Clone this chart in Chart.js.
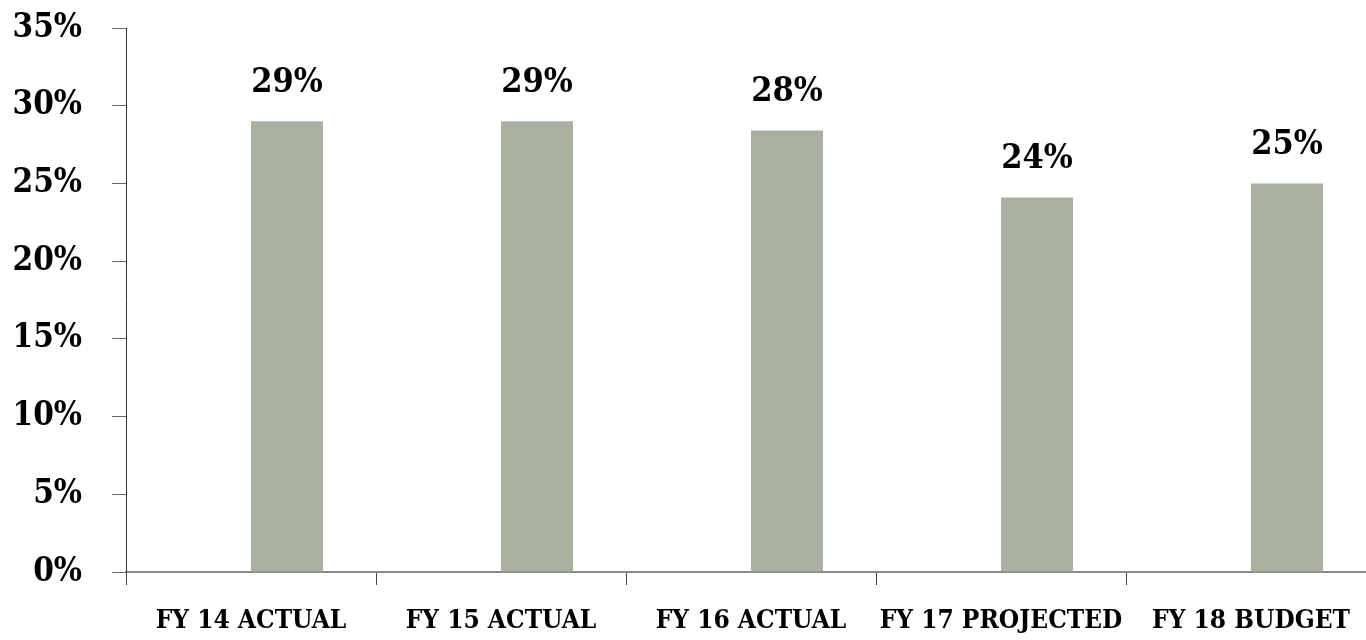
<!DOCTYPE html>
<html>
<head>
<meta charset="utf-8">
<script src="https://cdn.jsdelivr.net/npm/chart.js@4/dist/chart.umd.min.js"></script>
<style>
html,body{margin:0;padding:0;background:#fff;overflow:hidden;}
#wrap{position:relative;width:1390px;height:640px;}
</style>
</head>
<body>
<div id="wrap"><canvas id="c"></canvas></div>
<script>
const categories = ["FY 14 ACTUAL", "FY 15 ACTUAL", "FY 16 ACTUAL", "FY 17 PROJECTED", "FY 18 BUDGET"];
const emptySeries = [null, null, null, null, null];
const shareValues = [29.0, 29.0, 28.4, 24.1, 25.0];
const yTickMax = 35;
const yTickStep = 5;

const FONT = "'DejaVu Serif Condensed', 'DejaVu Serif', serif";

const valueLabels = {
  id: 'valueLabels',
  afterDatasetsDraw(chart) {
    const ctx = chart.ctx;
    const meta = chart.getDatasetMeta(1);
    ctx.save();
    ctx.font = "bold 34px " + FONT;
    ctx.fillStyle = "#000";
    ctx.textAlign = "center";
    ctx.textBaseline = "middle";
    meta.data.forEach((bar, i) => {
      const v = chart.data.datasets[1].data[i];
      ctx.fillText(Math.round(v) + "%", bar.x, bar.y - 38);
    });
    ctx.restore();
  }
};

new Chart(document.getElementById('c'), {
  type: 'bar',
  data: {
    labels: categories,
    datasets: [
      { data: emptySeries, backgroundColor: '#AAB09F' },
      { data: shareValues, backgroundColor: '#AAB09F' }
    ]
  },
  options: {
    responsive: true,
    maintainAspectRatio: false,
    animation: false,
    datasets: { bar: { barPercentage: 1, categoryPercentage: 0.576 } },
    layout: { padding: { top: 28, right: 14, left: 0, bottom: 0 } },
    plugins: { legend: { display: false }, tooltip: { enabled: false } },
    scales: {
      x: {
        offset: true,
        grid: { offset: true, drawOnChartArea: false, drawTicks: true, tickLength: 13, color: '#444', lineWidth: 1 },
        border: { display: true, color: '#888', width: 2 },
        ticks: { color: '#000', font: { family: FONT, weight: 'bold', size: 26 }, padding: 21, maxRotation: 0, autoSkip: false },
        afterFit(scale) { scale.height = 68; scale.paddingLeft = 0; scale.paddingRight = 0; }
      },
      y: {
        min: 0,
        max: yTickMax,
        grid: { drawOnChartArea: false, drawTicks: true, tickLength: 14, color: '#666', lineWidth: 1 },
        border: { display: true, color: '#333', width: 1 },
        ticks: { stepSize: yTickStep, color: '#000', font: { family: FONT, weight: 'bold', size: 33 }, padding: 30,
                 callback: v => v + '%' },
        afterFit(scale) { scale.width = 126; scale.paddingTop = 0; scale.paddingBottom = 0; }
      }
    }
  },
  plugins: [valueLabels]
});
</script>
</body>
</html>
